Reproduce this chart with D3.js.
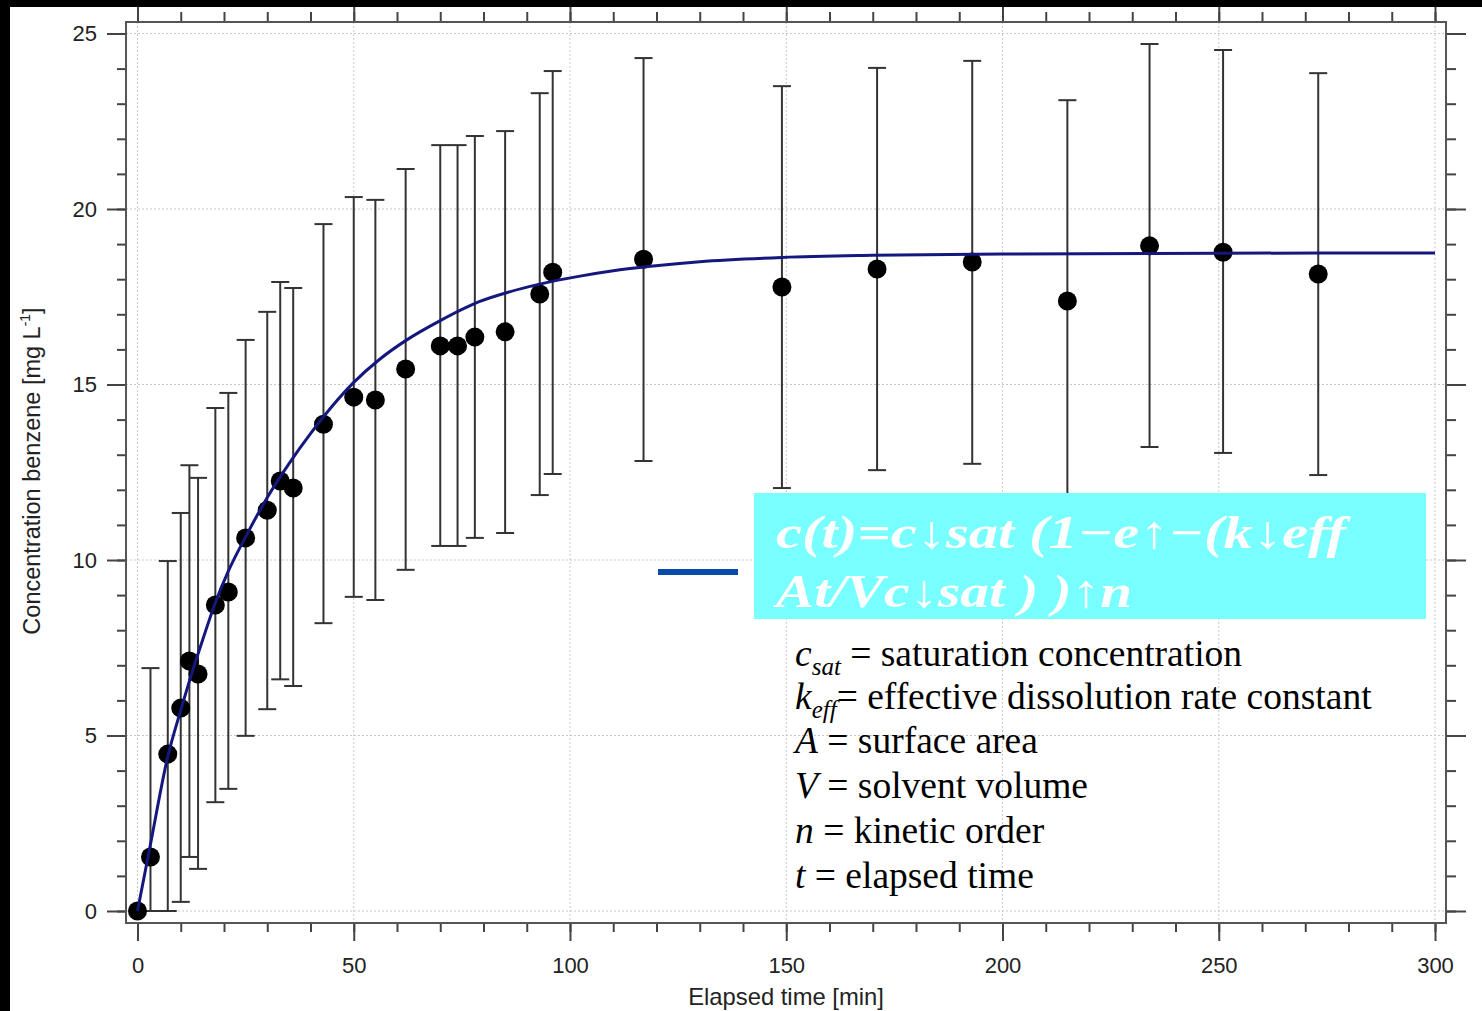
<!DOCTYPE html>
<html>
<head>
<meta charset="utf-8">
<script src="https://cdn.jsdelivr.net/npm/d3@7"></script>
<style>
  body { margin: 0; background: #000; }
  svg { display: block; }
</style>
</head>
<body>
<div id="chart"></div>
<script>
const timeMin   = [0, 3, 7, 10, 12, 14, 18, 21, 25, 30, 33, 36, 43, 50, 55, 62, 70, 74, 78, 85, 93, 96, 117, 149, 171, 193, 215, 234, 251, 273];
const concMean  = [0, 1.54, 4.47, 5.78, 7.12, 6.75, 8.72, 9.09, 10.63, 11.42, 12.25, 12.05, 13.87, 14.64, 14.56, 15.44, 16.1, 16.1, 16.35, 16.5, 17.58, 18.2, 18.57, 17.78, 18.29, 18.49, 17.38, 18.95, 18.77, 18.15];
const concUpper = [0, 6.92, 9.97, 11.34, 12.7, 12.34, 14.33, 14.76, 16.27, 17.07, 17.92, 17.75, 19.57, 20.34, 20.26, 21.14, 21.82, 21.82, 22.08, 22.22, 23.3, 23.93, 24.3, 23.5, 24.02, 24.22, 23.1, 24.7, 24.53, 23.87];
const concLower = [0, 0, 0, 0.26, 1.54, 1.2, 3.1, 3.48, 4.99, 5.75, 6.6, 6.41, 8.2, 8.95, 8.86, 9.72, 10.4, 10.4, 10.63, 10.77, 11.85, 12.45, 12.82, 12.05, 12.56, 12.74, 11.7, 13.22, 13.05, 12.42];

// fitted curve
const fitTime = [0, 3, 7, 10, 12.5, 15, 18, 21, 25, 30, 35, 40, 45, 50, 56, 62, 70, 79, 86, 93, 102, 110, 118, 130, 149, 170, 200, 250, 300];
const fitConc = [0, 1.9, 4.4, 5.72, 6.75, 7.7, 8.78, 9.68, 10.66, 11.78, 12.74, 13.6, 14.38, 15.06, 15.72, 16.25, 16.82, 17.36, 17.64, 17.86, 18.08, 18.24, 18.36, 18.5, 18.62, 18.68, 18.72, 18.74, 18.75];

// ticks
const xMajor = [0, 50, 100, 150, 200, 250, 300];
const xMinor = d3.range(0, 301, 10);
const yMajor = [0, 5, 10, 15, 20, 25];
const yMinor = d3.range(0, 26, 1);

const formulaLines = ["c(t)=c\u2193sat (1\u2212e\u2191\u2212(k\u2193eff", "At/Vc\u2193sat  ) )\u2191n"];
const defSymbols = ["c", "k", "A", "V", "n", "t"];
const defSubs = ["sat", "eff", "", "", "", ""];
const defTexts = [" = saturation concentration", "= effective dissolution rate constant", " = surface area", " = solvent volume", " = kinetic order", " = elapsed time"];

const W = 1482, H = 1011;
const frame = {left: 126, top: 22, right: 1446, bottom: 923};

const svg = d3.select("#chart").append("svg")
    .attr("width", W)
    .attr("height", H);

svg.append("rect").attr("width", W).attr("height", H).attr("fill", "#000");
svg.append("rect").attr("x", 10).attr("y", 7).attr("width", W - 10).attr("height", H - 7).attr("fill", "#fff");

const x = d3.scaleLinear().domain([0, 300]).range([137.5, 1435]);
const y = d3.scaleLinear().domain([0, 25]).range([911, 33.5]);

// grid
const grid = svg.append("g")
    .attr("stroke", "#c8c8c8")
    .attr("stroke-width", 1)
    .attr("stroke-dasharray", "2,2");
grid.selectAll(".gx").data(xMajor).enter().append("line")
    .attr("x1", d => x(d)).attr("x2", d => x(d))
    .attr("y1", frame.top).attr("y2", frame.bottom);
grid.selectAll(".gy").data(yMajor).enter().append("line")
    .attr("y1", d => y(d)).attr("y2", d => y(d))
    .attr("x1", frame.left).attr("x2", frame.right);

// axes
function styleAxis(g) {
    g.select(".domain").remove();
    g.selectAll(".tick line").attr("stroke", "#444").attr("stroke-width", 2);
    g.selectAll("text")
        .attr("fill", "#222")
        .style("font-family", "'Liberation Sans', Arial, sans-serif")
        .style("font-size", "22px");
}

svg.append("g").attr("transform", `translate(${frame.left},0)`)
    .call(d3.axisLeft(y).tickValues(yMinor).tickSize(9).tickSizeOuter(0).tickFormat(""))
    .call(styleAxis);
svg.append("g").attr("transform", `translate(${frame.left},0)`)
    .call(d3.axisLeft(y).tickValues(yMajor).tickSize(19).tickPadding(10).tickSizeOuter(0))
    .call(styleAxis);

svg.append("g").attr("transform", `translate(${frame.right},0)`)
    .call(d3.axisRight(y).tickValues(yMinor).tickSize(10).tickSizeOuter(0).tickFormat(""))
    .call(styleAxis);
svg.append("g").attr("transform", `translate(${frame.right},0)`)
    .call(d3.axisRight(y).tickValues(yMajor).tickSize(20).tickSizeOuter(0).tickFormat(""))
    .call(styleAxis);

svg.append("g").attr("transform", `translate(0,${frame.bottom})`)
    .call(d3.axisBottom(x).tickValues(xMinor).tickSize(9).tickSizeOuter(0).tickFormat(""))
    .call(styleAxis);
svg.append("g").attr("transform", `translate(0,${frame.bottom})`)
    .call(d3.axisBottom(x).tickValues(xMajor).tickSize(18).tickPadding(16).tickSizeOuter(0))
    .call(styleAxis);

svg.append("g").attr("transform", `translate(0,${frame.top})`)
    .call(d3.axisTop(x).tickValues(xMinor).tickSize(10).tickSizeOuter(0).tickFormat(""))
    .call(styleAxis);
svg.append("g").attr("transform", `translate(0,${frame.top})`)
    .call(d3.axisTop(x).tickValues(xMajor).tickSize(18).tickSizeOuter(0).tickFormat(""))
    .call(styleAxis);

// frame
svg.append("rect")
    .attr("x", frame.left).attr("y", frame.top)
    .attr("width", frame.right - frame.left).attr("height", frame.bottom - frame.top)
    .attr("fill", "none").attr("stroke", "#555").attr("stroke-width", 2);

// error bars
const pts = timeMin.map((t, i) => ({t: t, c: concMean[i], lo: concLower[i], hi: concUpper[i]}));
const bars = svg.append("g").attr("stroke", "#333").attr("stroke-width", 2);
const withBar = pts.filter(d => d.hi > d.lo);
bars.selectAll(".ev").data(withBar).enter().append("line")
    .attr("x1", d => x(d.t)).attr("x2", d => x(d.t))
    .attr("y1", d => y(d.lo)).attr("y2", d => y(d.hi));
bars.selectAll(".eh").data(withBar).enter().append("line")
    .attr("x1", d => x(d.t) - 9).attr("x2", d => x(d.t) + 9)
    .attr("y1", d => y(d.hi)).attr("y2", d => y(d.hi));
bars.selectAll(".el").data(withBar).enter().append("line")
    .attr("x1", d => x(d.t) - 9).attr("x2", d => x(d.t) + 9)
    .attr("y1", d => y(d.lo)).attr("y2", d => y(d.lo));

// points
svg.append("g").selectAll("circle").data(pts).enter().append("circle")
    .attr("cx", d => x(d.t)).attr("cy", d => y(d.c))
    .attr("r", 9.5).attr("fill", "#000");

// fit line
const fit = fitTime.map((t, i) => [t, fitConc[i]]);
svg.append("path")
    .datum(fit)
    .attr("fill", "none")
    .attr("stroke", "#14187e")
    .attr("stroke-width", 3)
    .attr("d", d3.line().x(d => x(d[0])).y(d => y(d[1])).curve(d3.curveMonotoneX));

// formula box
svg.append("line")
    .attr("x1", 658).attr("x2", 738).attr("y1", 572).attr("y2", 572)
    .attr("stroke", "#0a4aa8").attr("stroke-width", 6);
svg.append("rect")
    .attr("x", 754).attr("y", 493).attr("width", 672).attr("height", 126)
    .attr("fill", "#78ffff");
const fLen = [570, 356];
svg.selectAll(".formula").data(formulaLines).enter().append("text")
    .attr("x", 776)
    .attr("y", (d, i) => 548 + i * 59)
    .attr("textLength", (d, i) => fLen[i])
    .attr("lengthAdjust", "spacingAndGlyphs")
    .attr("fill", "#fff")
    .style("font-family", "'Liberation Serif', 'DejaVu Serif', serif")
    .style("font-style", "italic")
    .style("font-weight", "bold")
    .style("font-size", "46px")
    .text(d => d);

// definitions
const baseY = [666, 709, 753, 798, 843, 888];
defSymbols.forEach((s, i) => {
    const t = svg.append("text")
        .attr("x", 795).attr("y", baseY[i])
        .attr("fill", "#000")
        .style("font-family", "'Liberation Serif', 'Times New Roman', serif")
        .style("font-size", "37.5px");
    t.append("tspan").style("font-style", "italic").text(s);
    if (defSubs[i]) {
        t.append("tspan").style("font-style", "italic").style("font-size", "25px").attr("dy", 9).text(defSubs[i]);
        t.append("tspan").attr("dy", -9).text(defTexts[i]);
    } else {
        t.append("tspan").text(defTexts[i]);
    }
});

// axis titles
svg.append("text")
    .attr("x", 786).attr("y", 1005)
    .attr("text-anchor", "middle")
    .attr("fill", "#222")
    .style("font-family", "'Liberation Sans', Arial, sans-serif")
    .style("font-size", "23.8px")
    .text("Elapsed time [min]");

const yt = svg.append("text")
    .attr("transform", "translate(40,471) rotate(-90)")
    .attr("text-anchor", "middle")
    .attr("fill", "#222")
    .style("font-family", "'Liberation Sans', Arial, sans-serif")
    .style("font-size", "23.5px");
yt.append("tspan").text("Concentration benzene [mg L");
yt.append("tspan").attr("dy", -10).style("font-size", "14px").text("-1");
yt.append("tspan").attr("dy", 10).text("]");

// black border bands drawn last (cover tick ends)
svg.append("rect").attr("x", 0).attr("y", 0).attr("width", W).attr("height", 7).attr("fill", "#000");
svg.append("rect").attr("x", 0).attr("y", 0).attr("width", 10).attr("height", H).attr("fill", "#000");
</script>
</body>
</html>
